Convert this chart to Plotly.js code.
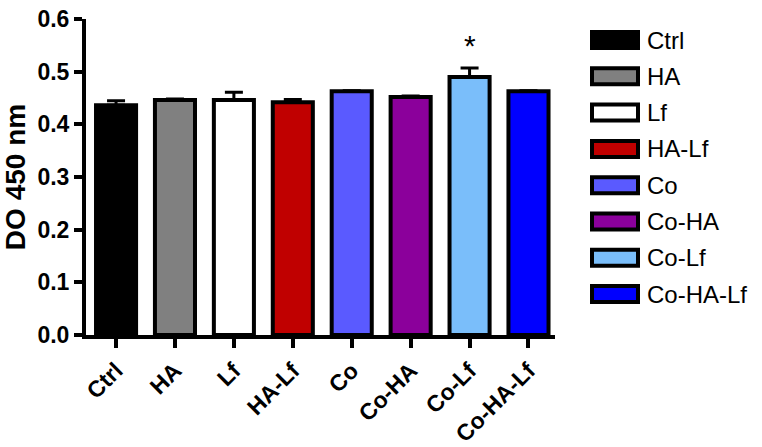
<!DOCTYPE html>
<html>
<head>
<meta charset="utf-8">
<script src="https://cdn.plot.ly/plotly-3.0.1.min.js"></script>
<style>
html,body{margin:0;padding:0;background:#fff;}
#chart{width:762px;height:447px;}
</style>
</head>
<body>
<div id="chart"></div>
<script>
// ---- data ----
const categories = ["Ctrl", "HA", "Lf", "HA-Lf", "Co", "Co-HA", "Co-Lf", "Co-HA-Lf"];
const values     = [0.436, 0.446, 0.446, 0.442, 0.463, 0.452, 0.490, 0.463];
const errors     = [0.009, 0.002, 0.015, 0.005, 0.001, 0.002, 0.017, 0.001];
const colors     = ["#000000", "#808080", "#FFFFFF", "#C00000", "#5A5AFF", "#8B009B", "#7ABEFA", "#0000FF"];
const yTicks     = [0.0, 0.1, 0.2, 0.3, 0.4, 0.5, 0.6];
const yTickText  = ["0.0", "0.1", "0.2", "0.3", "0.4", "0.5", "0.6"];
const significant = ["Co-Lf"];

// ---- layout geometry (pixels) ----
const W = 762, H = 447;
const plotL = 86, plotR = 555, plotT = 19, plotB = 335;
const pw = plotR - plotL, ph = plotB - plotT;
const px2x = p => (p - plotL) / pw;
const px2y = p => (plotB - p) / ph;

const FONT = "Liberation Sans, Arial, Helvetica, sans-serif";

const trace = {
  type: "bar",
  x: categories,
  y: values,
  width: 0.68,
  marker: { color: colors, line: { color: "#000", width: 4 } },
  error_y: {
    type: "data", symmetric: false, array: errors,
    arrayminus: errors.map(() => 0),
    color: "#000", thickness: 3, width: 9
  },
  showlegend: false,
  hoverinfo: "x+y"
};

// legend drawn as shapes + annotations
const shapes = [];
const annotations = [];
categories.forEach((c, i) => {
  const yc = 40 + 36.3 * i;
  shapes.push({
    type: "rect", xref: "paper", yref: "paper",
    x0: px2x(592), x1: px2x(638),
    y0: px2y(yc + 8), y1: px2y(yc - 8),
    fillcolor: colors[i], line: { color: "#000", width: 4 }
  });
  annotations.push({
    xref: "paper", yref: "paper",
    x: px2x(645), y: px2y(yc),
    xanchor: "left", yanchor: "middle",
    text: c, showarrow: false,
    font: { family: FONT, size: 24, color: "#000" }
  });
});

significant.forEach(c => {
  const i = categories.indexOf(c);
  annotations.push({
    x: c, y: values[i] + errors[i], xref: "x", yref: "y",
    text: "*", showarrow: false, yanchor: "bottom", yshift: 4,
    font: { family: FONT, size: 30, color: "#000" }
  });
});

const layout = {
  width: W, height: H,
  margin: { l: plotL, r: W - plotR, t: plotT, b: H - plotB },
  paper_bgcolor: "#fff", plot_bgcolor: "#fff",
  font: { family: FONT, color: "#000" },
  xaxis: {
    type: "category",
    range: [-0.51, 7.45],
    showline: true, linecolor: "#000", linewidth: 4,
    ticks: "outside", ticklen: 9, tickwidth: 4, tickcolor: "#000",
    tickangle: -45,
    tickfont: { family: FONT, size: 23, color: "#000", weight: "bold" },
    showgrid: false, zeroline: false, fixedrange: true
  },
  yaxis: {
    range: [0, 0.6],
    tickvals: yTicks, ticktext: yTickText,
    showline: true, linecolor: "#000", linewidth: 4,
    ticks: "outside", ticklen: 8, tickwidth: 4, tickcolor: "#000",
    tickfont: { family: FONT, size: 23, color: "#000", weight: "bold" },
    title: { text: "DO 450 nm", font: { family: FONT, size: 28, color: "#000", weight: "bold" }, standoff: 5 },
    showgrid: false, zeroline: false, fixedrange: true
  },
  shapes: shapes,
  annotations: annotations,
  bargap: 0.3
};

Plotly.newPlot("chart", [trace], layout, { displayModeBar: false, staticPlot: true });
</script>
</body>
</html>
